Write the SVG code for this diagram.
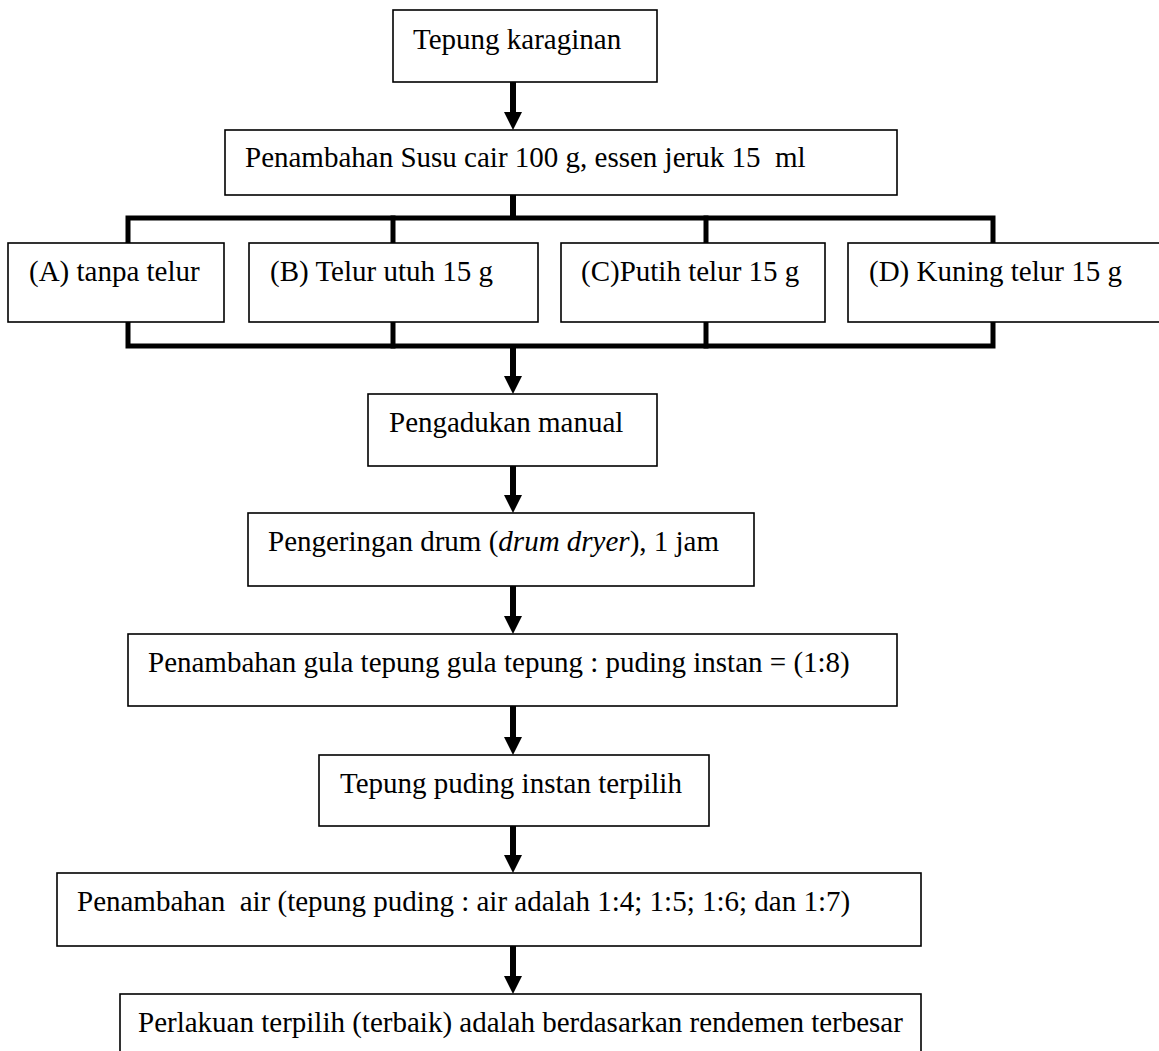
<svg xmlns="http://www.w3.org/2000/svg" width="1159" height="1051" viewBox="0 0 1159 1051">
<style>
.box{fill:#fff;stroke:#000;stroke-width:1.6}
.t{font-family:"Liberation Serif","Times New Roman",serif;font-size:29px;fill:#000}
.bus{fill:none;stroke:#000;stroke-width:5;stroke-linecap:square;stroke-linejoin:miter}
.shaft{stroke:#000;stroke-width:6}
.head{fill:#000}
</style>
<rect width="1159" height="1051" fill="#fff"/>
<g id="connectors">
  <line class="shaft" x1="513" y1="82" x2="513" y2="114"/>
  <polygon class="head" points="504,112 522,112 513,130"/>
  <line class="shaft" x1="513" y1="195" x2="513" y2="218"/>
  <polyline class="bus" points="128,243 128,218 993,218 993,243"/>
  <line class="bus" x1="393" y1="218" x2="393" y2="243"/>
  <line class="bus" x1="706" y1="218" x2="706" y2="243"/>
  <polyline class="bus" points="128,322 128,346 993,346 993,322"/>
  <line class="bus" x1="393" y1="322" x2="393" y2="346"/>
  <line class="bus" x1="706" y1="322" x2="706" y2="346"/>
  <line class="shaft" x1="513" y1="346" x2="513" y2="378"/>
  <polygon class="head" points="504,376 522,376 513,394"/>
  <line class="shaft" x1="513" y1="466" x2="513" y2="497"/>
  <polygon class="head" points="504,495 522,495 513,513"/>
  <line class="shaft" x1="513" y1="586" x2="513" y2="618"/>
  <polygon class="head" points="504,616 522,616 513,634"/>
  <line class="shaft" x1="513" y1="706" x2="513" y2="739"/>
  <polygon class="head" points="504,737 522,737 513,755"/>
  <line class="shaft" x1="513" y1="826" x2="513" y2="857"/>
  <polygon class="head" points="504,855 522,855 513,873"/>
  <line class="shaft" x1="513" y1="946" x2="513" y2="978"/>
  <polygon class="head" points="504,976 522,976 513,994"/>
</g>
<g id="n1"><rect class="box" x="393" y="10" width="264" height="72"/><text class="t" x="413" y="49">Tepung karaginan</text></g>
<g id="n2"><rect class="box" x="225" y="130" width="672" height="65"/><text class="t" x="245" y="167" xml:space="preserve">Penambahan Susu cair 100 g, essen jeruk 15  ml</text></g>
<g id="nA"><rect class="box" x="8" y="243" width="216" height="79"/><text class="t" x="29" y="281">(A) tanpa telur</text></g>
<g id="nB"><rect class="box" x="249" y="243" width="289" height="79"/><text class="t" x="270" y="281">(B) Telur utuh 15 g</text></g>
<g id="nC"><rect class="box" x="561" y="243" width="264" height="79"/><text class="t" x="581" y="281">(C)Putih telur 15 g</text></g>
<g id="nD"><rect class="box" x="848" y="243" width="320" height="79"/><text class="t" x="869" y="281">(D) Kuning telur 15 g</text></g>
<g id="n3"><rect class="box" x="368" y="394" width="289" height="72"/><text class="t" x="389" y="432">Pengadukan manual</text></g>
<g id="n4"><rect class="box" x="248" y="513" width="506" height="73"/><text class="t" x="268" y="551">Pengeringan drum (<tspan font-style="italic">drum dryer</tspan>), 1 jam</text></g>
<g id="n5"><rect class="box" x="128" y="634" width="769" height="72"/><text class="t" x="148" y="672">Penambahan gula tepung gula tepung : puding instan = (1:8)</text></g>
<g id="n6"><rect class="box" x="319" y="755" width="390" height="71"/><text class="t" x="340" y="793">Tepung puding instan terpilih</text></g>
<g id="n7"><rect class="box" x="57" y="873" width="864" height="73"/><text class="t" x="77" y="911" xml:space="preserve">Penambahan  air (tepung puding : air adalah 1:4; 1:5; 1:6; dan 1:7)</text></g>
<g id="n8"><rect class="box" x="120" y="994" width="801" height="80"/><text class="t" x="138" y="1032">Perlakuan terpilih (terbaik) adalah berdasarkan rendemen terbesar</text></g>
</svg>
